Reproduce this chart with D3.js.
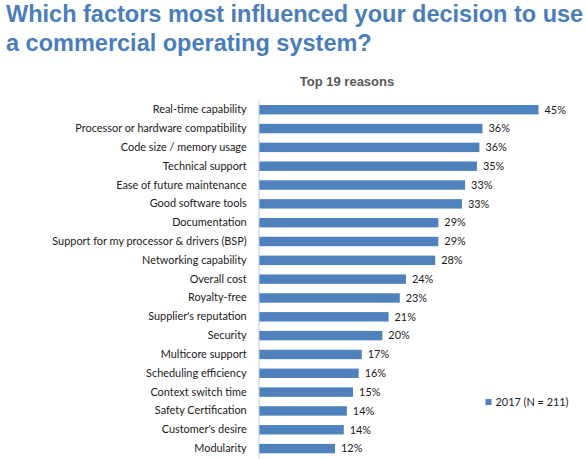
<!DOCTYPE html>
<html><head><meta charset="utf-8">
<script src="https://cdn.jsdelivr.net/npm/d3@7"></script>
<style>body{margin:0;background:#fff}</style>
</head><body>
<svg id="chart" width="587" height="459"></svg>
<script>
const titleLines = ["Which factors most influenced your decision to use", "a commercial operating system?"];
const subtitle = "Top 19 reasons";
const categories = ["Real-time capability","Processor or hardware compatibility","Code size / memory usage","Technical support","Ease of future maintenance","Good software tools","Documentation","Support for my processor & drivers (BSP)","Networking capability","Overall cost","Royalty-free","Supplier's reputation","Security","Multicore support","Scheduling efficiency","Context switch time","Safety Certification","Customer's desire","Modularity"];
const values = [45.0,36.0,35.5,35.1,33.2,32.7,28.9,28.9,28.4,23.7,22.7,20.9,19.9,16.6,16.1,15.2,14.2,13.7,12.3];
const seriesName = "2017 (N = 211)";

const svg = d3.select("#chart");
const blue = "#4f81bd";
const labelFont = "Lato, 'Open Sans', sans-serif";
const labelSize = 10.9;

svg.selectAll("text.title").data(titleLines).join("text")
  .attr("class","title")
  .attr("x",6).attr("y",(d,i)=>22+i*29)
  .attr("font-family","Arial, 'Liberation Sans', sans-serif")
  .attr("font-weight","bold").attr("font-size",23.5)
  .attr("fill","#4a7ebb").text(d=>d);

svg.append("text").attr("x",347).attr("y",86).attr("text-anchor","middle")
  .attr("font-family","Arial, 'Liberation Sans', sans-serif")
  .attr("font-weight","bold").attr("font-size",13).attr("fill","#595959").text(subtitle);

const x0 = 258.5;
const x = d3.scaleLinear().domain([0,45]).range([x0, 538.5]);
const y = d3.scaleBand().domain(categories).range([100.3, 458]).paddingInner(0.5).paddingOuter(0.25);

const g = svg.append("g");
g.selectAll("rect").data(values).join("rect")
  .attr("x",x(0)+0.5).attr("y",(d,i)=>y(categories[i]))
  .attr("width",d=>x(d)-x(0)-0.5).attr("height",y.bandwidth())
  .attr("fill",blue);

g.selectAll("text.val").data(values).join("text")
  .attr("class","val")
  .attr("x",d=>x(d)+6).attr("y",(d,i)=>y(categories[i])+y.bandwidth()/2)
  .attr("dy","0.35em")
  .attr("font-family",labelFont).attr("font-size",labelSize).attr("fill","#1a1a1a")
  .text(d=>Math.round(d)+"%");

const yAxis = d3.axisLeft(y).tickSize(0).tickPadding(11.8);
const ax = svg.append("g").attr("transform",`translate(${x0},0)`).call(yAxis);
ax.select(".domain").attr("stroke","#b9cde5").attr("stroke-width",1);
ax.selectAll("text").attr("font-family",labelFont).attr("font-size",labelSize).attr("fill","#1a1a1a");

const lg = svg.append("g").attr("transform","translate(485.5,399)");
lg.append("rect").attr("width",6).attr("height",6).attr("fill",blue);
lg.append("text").attr("x",10).attr("y",3).attr("dy","0.35em")
  .attr("font-family",labelFont).attr("font-size",labelSize).attr("fill","#1a1a1a").text(seriesName);
</script>
</body></html>
